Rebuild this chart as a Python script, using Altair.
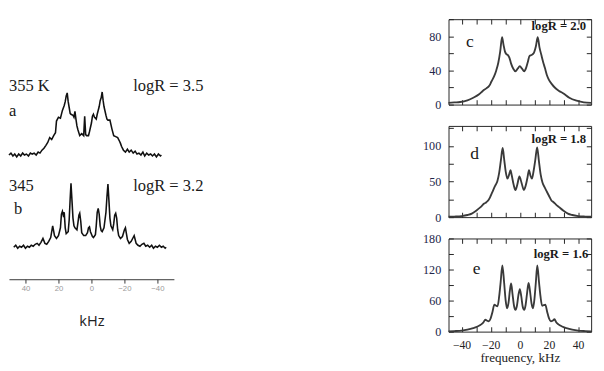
import altair as alt
import pandas as pd

SERIF = "Liberation Serif"

# ---------------- spectrum a (355 K, logR = 3.5) : frequency kHz / intensity ----------------
a_khz = [50.0, 48.8, 47.6, 46.5, 45.3, 44.1, 42.9, 41.7, 40.6, 39.4, 38.2, 37.0, 35.9, 34.7, 33.5,
         32.3, 31.2, 30.0, 28.8, 27.6, 26.5, 25.3, 24.1, 22.9, 21.8, 21.2, 20.0, 18.8, 17.6, 16.5,
         15.9, 15.3, 14.7, 14.1, 13.5, 12.9, 12.4, 11.2, 10.6, 10.0, 9.4, 8.8, 8.2, 7.1, 5.9,
         4.7, 4.1, 3.5, 2.9, 1.8, 1.2, 0.0, -0.6, -1.2, -1.8, -2.9, -3.5, -4.7, -5.3, -5.9,
         -6.5, -7.1, -7.6, -8.8, -9.4, -10.0, -11.2, -12.4, -13.5, -14.7, -15.9, -17.1, -17.6, -18.2, -19.4,
         -20.6, -21.8, -22.9, -24.1, -25.3, -26.5, -27.6, -28.8, -30.0, -31.2, -32.3, -33.5, -34.7, -35.9, -37.0,
         -38.2, -39.4, -40.6, -41.8, -42.4]
a_int = [1, 3, 0, 2, -1, 2, 0, 3, 1, 2, 0, 3, 2, 3, 1,
         4, 3, 6, 8, 11, 14, 19, 17, 21, 24, 36, 40, 39, 47, 52,
         56, 62, 65, 56, 50, 44, 43, 42, 40, 46, 38, 31, 27, 21, 23,
         21, 41, 22, 21, 21, 25, 34, 41, 43, 40, 38, 43, 51, 57, 60,
         66, 57, 51, 42, 38, 37, 37, 28, 21, 20, 19, 15, 13, 10, 6,
         4, 7, 4, 6, 3, 5, 2, 3, 1, 4, 0, 3, 1, 2, 0,
         2, -1, 2, 0, 1]

# ---------------- spectrum b (345 K, logR = 3.2) ----------------
b_khz = [47.1, 45.9, 44.7, 43.5, 42.4, 41.2, 40.0, 38.8, 37.6, 36.5, 35.3, 34.1, 32.9, 31.8, 30.6,
         29.4, 28.2, 27.1, 25.9, 24.7, 23.5, 22.4, 21.2, 20.0, 18.8, 18.2, 17.6, 17.1, 16.5, 15.9,
         15.3, 14.1, 13.5, 12.9, 12.4, 11.8, 11.2, 10.6, 10.0, 8.8, 8.2, 7.6, 7.1, 6.5, 5.9,
         4.7, 3.5, 2.4, 1.8, 1.2, 0.6, -0.6, -1.2, -2.4, -2.9, -3.5, -4.1, -4.7, -5.3, -5.9,
         -6.5, -7.6, -8.8, -9.4, -10.0, -10.6, -11.2, -11.8, -12.9, -13.5, -14.1, -14.7, -15.3, -15.9, -16.5,
         -17.6, -18.8, -20.0, -20.6, -21.2, -21.8, -22.9, -24.1, -25.3, -25.9, -26.5, -27.1, -28.2, -29.4, -30.6,
         -31.8, -32.9, -34.1, -35.3, -36.5, -37.6, -38.8, -40.0, -41.2, -42.4, -43.5, -44.7, -45.3]
b_int = [0, 2, -1, 1, 0, 2, -1, 1, 0, 2, 1, 3, 4, 2, 5,
         9, 4, 3, 6, 10, 22, 12, 9, 12, 20, 34, 37, 33, 36, 20,
         14, 16, 28, 50, 66, 48, 30, 22, 20, 18, 25, 33, 35, 27, 15,
         12, 12, 15, 20, 21, 16, 11, 10, 13, 22, 36, 40, 34, 22, 17,
         16, 20, 36, 52, 65, 48, 30, 22, 18, 24, 33, 35, 30, 18, 12,
         9, 11, 18, 20, 14, 8, 4, 6, 10, 12, 8, 4, 2, 1, 3,
         4, 1, 2, 0, 2, -1, 1, 0, 2, 0, 1, -1, 0]

# ---------------- simulated spectra c, d, e ----------------
c_khz = [-49, -45, -41, -36, -32, -28, -25.5, -23, -21, -19.5, -17.7, -16.2, -14.8, -13.5, -12.2,
         -11.2, -10.2, -9.2, -8.2, -7.2, -6, -4.5, -3, -1.5, 0, 1.5, 3, 4.3, 5.5, 6.7,
         8, 9.5, 11, 12.3, 13.5, 14.8, 16, 17.2, 18.5, 20, 22, 24, 27, 30, 34, 39, 44, 49]
c_val = [2, 2.5, 3, 5, 8, 12, 16, 19, 22, 27, 33, 40, 49, 62, 79,
         70, 62, 59, 58, 55, 48, 42, 39, 42, 45, 42, 39, 43, 50, 57,
         58, 60, 68, 79, 67, 58, 50, 43, 35, 29, 24, 20, 16, 13, 8, 4.5, 2.5, 2]

d_khz = [-49, -45, -40, -36, -33, -30, -27, -24.5, -23, -21.5, -20, -18.5, -17, -15.5, -14.2,
         -13, -11.8, -10.7, -9.7, -8.5, -7.3, -6.4, -5.5, -4.2, -3, -1.8, -0.3, 1.2, 2.8, 4,
         5.2, 6.3, 7.3, 8.3, 9.4, 10.6, 11.9, 13.1, 14.3, 15.5, 17, 18.5, 20, 21.8, 23.2,
         24.7, 27, 30, 33, 36, 40, 45, 49]
d_val = [0.5, 0.8, 1.5, 3, 5, 9, 14, 19, 21, 24, 30, 37, 44, 50, 62,
         80, 97, 80, 64, 54, 60, 66, 58, 45, 38, 45, 57, 48, 38, 44,
         55, 66, 58, 54, 64, 80, 98, 79, 60, 49, 42, 36, 30, 23, 21,
         18, 14, 9, 5, 3, 1.5, 0.8, 0.5]

e_khz = [-49, -45, -40, -36, -32, -29, -26.5, -25, -23.7, -22.5, -21.3, -20, -18.8, -17.5, -16.3,
         -15.3, -14.2, -13.2, -12, -10.8, -9.8, -8.8, -7.8, -6.8, -6, -5, -4, -3, -2, -1,
         0, 1, 2, 3, 4, 5, 6, 7, 8, 9, 10, 11, 12, 13.2, 14.2,
         15.3, 16.3, 17.5, 18.8, 20, 21.3, 22.5, 23.8, 25, 26.5, 29, 32, 36, 40, 45, 49]
e_val = [0.5, 1, 2, 4, 7, 10, 14, 18, 23, 21, 20, 26, 38, 52, 50,
         49, 68, 95, 128, 95, 62, 45, 55, 80, 93, 72, 50, 42, 50, 70,
         82, 68, 48, 42, 52, 75, 94, 78, 55, 45, 62, 95, 128, 95, 68,
         50, 51, 52, 38, 26, 20, 21, 24, 18, 14, 10, 7, 4, 2, 1, 0.5]

# ---------------- annotations ----------------
a_text = ["355 K", "a", "logR = 3.5"]
a_text_khz = [50, 50, -25.3]
a_text_int = [72, 46, 72]
b_text = ["345", "b", "logR = 3.2"]
b_text_khz = [50, 47, -25.3]
b_text_int = [63, 39, 63]

left_ticks = [40, 20, 0, -20, -40]
right_xticks = [-40, -30, -20, -10, 0, 10, 20, 30, 40]


def left_panel(k, v, ydom, height, txt, tk, tv, axis):
    df = pd.DataFrame({"k": k, "v": v})
    xs = alt.Scale(domain=[-50, 50], reverse=True, nice=False, zero=False)
    ys = alt.Scale(domain=ydom, nice=False, zero=False)
    line = alt.Chart(df).mark_line(color="#111111", strokeWidth=1.6).encode(
        x=alt.X("k:Q", scale=xs, axis=axis),
        y=alt.Y("v:Q", scale=ys, axis=None),
    )
    tdf = pd.DataFrame({"k": tk, "v": tv, "t": txt})
    text = alt.Chart(tdf).mark_text(align="left", baseline="middle", font=SERIF,
                                    fontSize=17, color="#1a1a1a").encode(
        x=alt.X("k:Q", scale=xs, axis=axis),
        y=alt.Y("v:Q", scale=ys, axis=None),
        text="t:N",
    )
    return alt.layer(line, text).properties(
        width=170, height=height, view=alt.ViewBackground(strokeOpacity=0))


axis_b = alt.Axis(values=left_ticks, title="kHz", titleFont="Open Sans", titleFontSize=15,
                  titleFontWeight="normal", titleColor="#222", titlePadding=22,
                  labelFont="Liberation Sans", labelFontSize=8, labelColor="#9a9a9a",
                  labelPadding=2, labelFlush=False, tickSize=4, tickColor="#333",
                  domainColor="#333", domainWidth=1, grid=False)

A = left_panel(a_khz, a_int, [-9, 141], 150, a_text, a_text_khz, a_text_int, None)
B = left_panel(b_khz, b_int, [-33, 72], 105, b_text, b_text_khz, b_text_int, axis_b)


def right_panel(k, v, ymax, ystep, lstep, height, letter, lk, lv, logr, rk, rv, bottom_labels):
    df = pd.DataFrame({"k": k, "v": v})
    xs = alt.Scale(domain=[-49, 49], nice=False, zero=False)
    ys = alt.Scale(domain=[0, ymax], nice=False, zero=False)
    yt = list(range(0, ymax + 1, ystep))
    tick = dict(tickSize=5, tickColor="#222", tickWidth=1, offset=-5, domain=False, grid=False)
    if bottom_labels:
        xb = alt.Axis(orient="bottom", values=right_xticks,
                      labelExpr="datum.value % 20 === 0 ? datum.label : ''",
                      labelFont=SERIF, labelFontSize=12, labelColor="#222", labelPadding=8,
                      labelFlush=False, labelOverlap=False,
                      title="frequency, kHz", titleFont=SERIF, titleFontSize=13.5,
                      titleFontWeight="normal", titleColor="#222", titlePadding=1, **tick)
    else:
        xb = alt.Axis(orient="bottom", values=right_xticks, labels=False, title=None, **tick)
    yl = alt.Axis(orient="left", values=yt,
                  labelExpr=f"datum.value % {lstep} === 0 ? datum.label : ''",
                  labelFont=SERIF, labelFontSize=12.5, labelColor="#22264a", labelPadding=8,
                  labelFlush=False, labelOverlap=False, title=None, **tick)
    xt = alt.Axis(orient="top", values=right_xticks, labels=False, title=None, **tick)
    yr = alt.Axis(orient="right", values=yt, labels=False, title=None, **tick)

    line = alt.Chart(df).mark_line(color="#3a3a3a", strokeWidth=1.9, interpolate="monotone").encode(
        x=alt.X("k:Q", scale=xs, axis=xb), y=alt.Y("v:Q", scale=ys, axis=yl))
    mirror = alt.Chart(df).mark_line(opacity=0).encode(
        x=alt.X("k:Q", scale=xs, axis=xt), y=alt.Y("v:Q", scale=ys, axis=yr))
    ldf = pd.DataFrame({"k": [lk], "v": [lv], "t": [letter]})
    lt = alt.Chart(ldf).mark_text(align="center", baseline="middle", font=SERIF, fontSize=18,
                                  color="#1a1a1a").encode(
        x=alt.X("k:Q", scale=xs, axis=None), y=alt.Y("v:Q", scale=ys, axis=None), text="t:N")
    rdf = pd.DataFrame({"k": [rk], "v": [rv], "t": [logr]})
    rt = alt.Chart(rdf).mark_text(align="right", baseline="middle", font=SERIF, fontSize=13,
                                  fontWeight="bold", color="#1a1a1a").encode(
        x=alt.X("k:Q", scale=xs, axis=None), y=alt.Y("v:Q", scale=ys, axis=None), text="t:N")
    return alt.layer(line, mirror, lt, rt).resolve_axis(
        x="independent", y="independent").properties(width=147, height=height)


C = right_panel(c_khz, c_val, 100, 20, 40, 88, "c", -34.3, 73, "logR = 2.0", 45.5, 92, False)
D = right_panel(d_khz, d_val, 128, 25, 50, 94, "d", -31, 88.5, "logR = 1.8", 45.5, 110, False)
E = right_panel(e_khz, e_val, 180, 30, 60, 96, "e", -29.7, 120, "logR = 1.6", 47, 149.5, True)

left = alt.vconcat(A, B, spacing=13, bounds="flush")
right = alt.vconcat(C, D, E, spacing=22, bounds="flush")

chart = alt.hconcat(left, right, spacing=224).properties(
    padding={"left": -3, "top": -1, "right": 0, "bottom": 0}
).configure_view(stroke="#222", strokeWidth=1)

chart.save("out.html", embed_options={"renderer": "svg", "actions": False})
